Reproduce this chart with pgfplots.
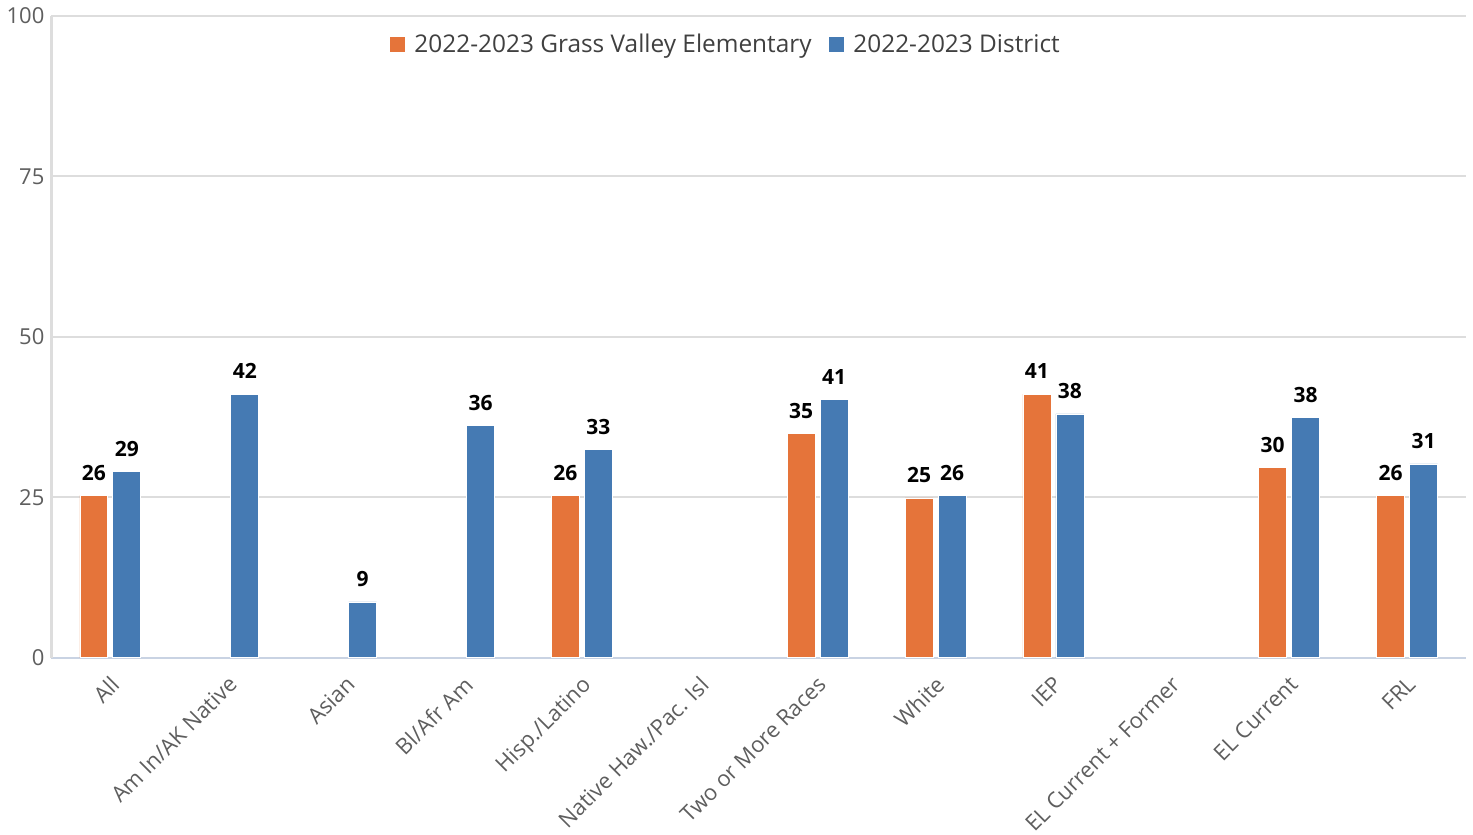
\documentclass[border=0pt]{standalone}
\usepackage{pgfplots}
\pgfplotsset{compat=1.18}
\usepackage{fontspec}
\setmainfont{Open Sans}

\definecolor{gvorange}{HTML}{E5743A}
\definecolor{distblue}{HTML}{457AB3}
\definecolor{gridgray}{HTML}{DDDDDD}
\definecolor{basegray}{HTML}{C9D3E3}
\definecolor{ticktext}{HTML}{5E5E5E}
\definecolor{legtext}{HTML}{404040}

\begin{document}
\begin{tikzpicture}
\begin{axis}[
  name=ax,
  scale only axis,
  width=707.5pt, height=321pt,
  ybar=2.5pt, bar width=14pt,
  xmin=-0.5, xmax=11.5, ymin=0, ymax=100,
  xtick={0,...,11},
  xticklabels={All, Am In/AK Native, Asian, Bl/Afr Am, Hisp./Latino,
    Native Haw./Pac. Isl, Two or More Races, White, IEP,
    EL Current + Former, EL Current, FRL},
  x tick label style={rotate=45, anchor=north east, text=ticktext, overlay,
    xshift=-3pt, yshift=-2pt, font=\fontsize{11}{13}\selectfont},
  ytick={0,25,50,75,100},
  y tick label style={text=ticktext, font=\fontsize{11}{13}\selectfont},
  /pgf/number format/assume math mode=true,
  ymajorgrids,
  grid style={draw=gridgray, line width=1pt},
  axis x line*=bottom, axis y line*=left,
  x axis line style={draw=basegray, line width=1pt, -},
  y axis line style={draw=gridgray, line width=1.5pt, -},
  major tick length=0pt,
  nodes near coords,
  point meta=explicit symbolic,
  every node near coord/.append style={text=black, yshift=4pt,
    font=\bfseries\fontsize{10.5}{12}\selectfont},
  legend style={at={(0.477,0.955)}, anchor=center, draw=none, fill=none,
    text=legtext, font=\fontsize{12.2}{14}\selectfont,
    /tikz/every odd column/.append style={column sep=2.5pt},
    /tikz/every even column/.append style={column sep=6pt}},
  legend columns=2,
  legend image code/.code={\fill[#1] (0pt,-4pt) rectangle (8pt,4pt);},
]
\addplot[fill=gvorange, draw=white, line width=0.4pt]
  coordinates {(0,25.3) [26] (4,25.3) [26] (6,34.9) [35] (7,24.9) [25]
               (8,41.1) [41] (10,29.6) [30] (11,25.3) [26]};
\addlegendentry{2022-2023 Grass Valley Elementary}

\addplot[fill=distblue, draw=white, line width=0.4pt]
  coordinates {(0,29.0) [29] (1,41.1) [42] (2,8.7) [9] (3,36.2) [36]
               (4,32.4) [33] (6,40.2) [41] (7,25.3) [26] (8,38.0) [38]
               (10,37.4) [38] (11,30.2) [31]};
\addlegendentry{2022-2023 District}
\end{axis}
\path (ax.south west) ++(-25.5pt,-88.5pt);
\path (ax.north east) ++(3.5pt,8pt);
\end{tikzpicture}
\end{document}
